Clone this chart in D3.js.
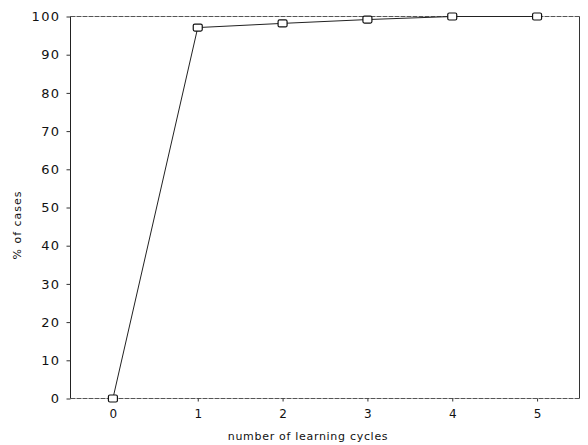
<!DOCTYPE html>
<html>
<head>
<meta charset="utf-8">
<script src="https://cdn.jsdelivr.net/npm/d3@7"></script>
<style>
  html, body { margin: 0; padding: 0; background: #fff; }
  svg text { font-family: "DejaVu Sans", sans-serif; fill: #111; }
</style>
</head>
<body>
<svg id="chart" width="588" height="445"></svg>
<script>
// Learning curve: share of cases handled after each learning cycle
const cycles = [0, 1, 2, 3, 4, 5];
const percentCases = [0, 97.1, 98.2, 99.2, 100, 100];
const yTicks = [0, 10, 20, 30, 40, 50, 60, 70, 80, 90, 100];
const xTicks = [0, 1, 2, 3, 4, 5];

const svg = d3.select("#chart");
const plotLeft = 70.5, plotRight = 579.5, plotTop = 16.5, plotBottom = 398.5;

const x = d3.scaleLinear().domain([-0.5, 5.5]).range([plotLeft, plotRight]);
const y = d3.scaleLinear().domain([0, 100]).range([plotBottom, plotTop]);

// frame
const frame = svg.append("g").attr("fill", "none");
frame.append("line").attr("x1", plotLeft).attr("x2", plotRight).attr("y1", plotTop).attr("y2", plotTop)
  .attr("stroke", "#555").attr("stroke-dasharray", "5,1");
frame.append("line").attr("x1", plotRight).attr("x2", plotRight).attr("y1", plotTop).attr("y2", plotBottom)
  .attr("stroke", "#333");
frame.append("line").attr("x1", plotLeft).attr("x2", plotRight).attr("y1", plotBottom).attr("y2", plotBottom)
  .attr("stroke", "#555").attr("stroke-dasharray", "5,1");
frame.append("line").attr("x1", plotLeft).attr("x2", plotLeft).attr("y1", plotTop).attr("y2", plotBottom)
  .attr("stroke", "#222");

// y axis
const yAxis = svg.append("g")
  .attr("transform", `translate(${plotLeft},0)`)
  .call(d3.axisLeft(y).tickValues(yTicks).tickSize(4).tickPadding(6).tickFormat(d3.format("d")));
yAxis.select(".domain").remove();
yAxis.selectAll(".tick line").attr("stroke", "#333");
yAxis.selectAll(".tick text")
  .attr("font-size", 13)
  .attr("letter-spacing", "1.4px")
  .attr("fill", "#111");

// x axis
const xAxis = svg.append("g")
  .attr("transform", `translate(0,${plotBottom})`)
  .call(d3.axisBottom(x).tickValues(xTicks).tickSize(3).tickPadding(8).tickFormat(d3.format("d")));
xAxis.select(".domain").remove();
xAxis.selectAll(".tick line").attr("stroke", "#333");
xAxis.selectAll(".tick text")
  .attr("font-size", 12)
  .attr("fill", "#111");

// axis titles
svg.append("text")
  .attr("x", 308)
  .attr("y", 440)
  .attr("text-anchor", "middle")
  .attr("font-size", 11)
  .attr("letter-spacing", "0.7px")
  .text("number of learning cycles");

svg.append("text")
  .attr("transform", "translate(21,225) rotate(-90)")
  .attr("text-anchor", "middle")
  .attr("font-size", 11)
  .attr("letter-spacing", "1px")
  .text("% of cases");

// curve
const pts = cycles.map((c, i) => [c, percentCases[i]]);
svg.append("path")
  .datum(pts)
  .attr("fill", "none")
  .attr("stroke", "#222")
  .attr("stroke-width", 1)
  .attr("d", d3.line().x(d => x(d[0])).y(d => y(d[1])));

// open square markers
svg.append("g").selectAll("rect")
  .data(pts)
  .join("rect")
  .attr("x", d => x(d[0]) - 4.5)
  .attr("y", d => y(d[1]) - 3.5)
  .attr("width", 9)
  .attr("height", 7)
  .attr("rx", 1.5)
  .attr("fill", "#fff")
  .attr("stroke", "#111")
  .attr("stroke-width", 1.2);
</script>
</body>
</html>
